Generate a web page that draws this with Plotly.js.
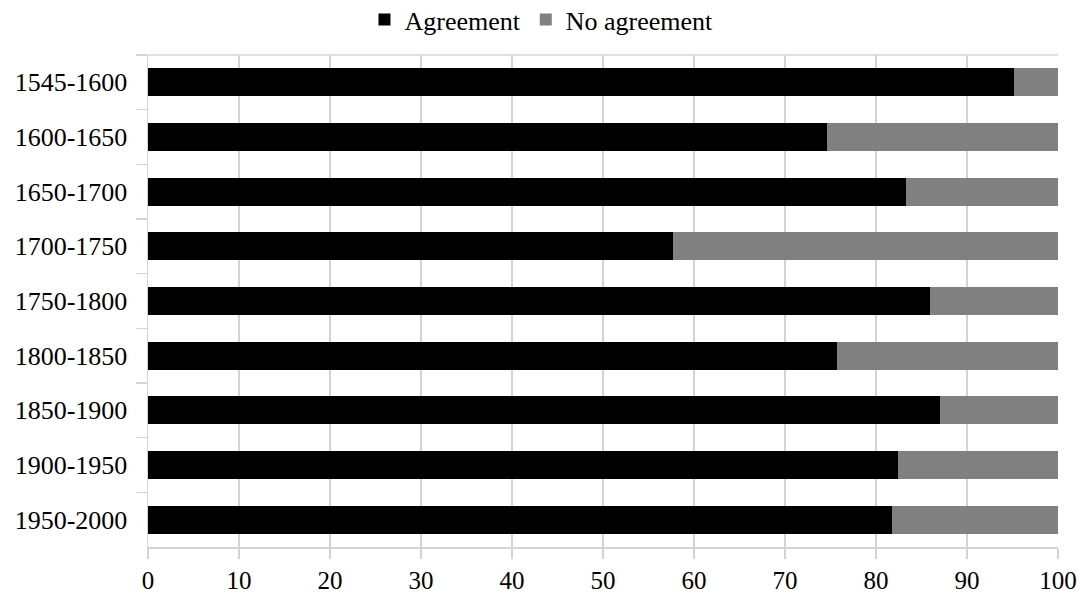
<!DOCTYPE html>
<html>
<head>
<meta charset="utf-8">
<script src="https://cdn.plot.ly/plotly-3.0.1.min.js"></script>
<style>
  html, body { margin: 0; padding: 0; background: #fff; }
  #chart { width: 1083px; height: 596px; }
</style>
</head>
<body>
<div id="chart"></div>
<script>
// Periods, top to bottom
const periods = ["1545-1600", "1600-1650", "1650-1700", "1700-1750", "1750-1800",
                 "1800-1850", "1850-1900", "1900-1950", "1950-2000"];
// Share of cases (%) with agreement
const agreement = [95.2, 74.6, 83.3, 57.7, 85.9, 75.7, 87.0, 82.4, 81.8];
// Remainder without agreement
const noAgreement = [4.8, 25.4, 16.7, 42.3, 14.1, 24.3, 13.0, 17.6, 18.2];
const xTicks = [0, 10, 20, 30, 40, 50, 60, 70, 80, 90, 100];

const serif = "Liberation Serif, Times New Roman, serif";
const font = { family: serif, size: 26, color: "#000" };
const gridColor = "#d4d4d4";

const traces = [
  { type: "bar", orientation: "h", name: "Agreement", y: periods, x: agreement,
    marker: { color: "#000000", line: { width: 0 } }, hoverinfo: "x+y" },
  { type: "bar", orientation: "h", name: "No agreement", y: periods, x: noAgreement,
    marker: { color: "#808080", line: { width: 0 } }, hoverinfo: "x+y" }
];

const layout = {
  width: 1083, height: 596,
  paper_bgcolor: "#fff", plot_bgcolor: "#fff",
  font: font,
  barmode: "stack",
  bargap: 0.49,
  margin: { l: 148, r: 25, t: 54.5, b: 48.5, pad: 0, autoexpand: false },
  showlegend: true,
  legend: {
    orientation: "h", traceorder: "normal",
    x: 0.4324, xanchor: "center", xref: "paper",
    y: 1.072, yref: "paper", yanchor: "middle",
    font: { family: serif, size: 26, color: "#000" },
    tracegroupgap: 0, itemclick: false
  },
  xaxis: {
    range: [0, 100], tickvals: xTicks, ticktext: xTicks.map(String),
    showgrid: true, gridcolor: gridColor, gridwidth: 1.5,
    zeroline: false, showline: true, linecolor: gridColor, linewidth: 1.5,
    ticks: "outside", ticklen: 10, tickcolor: gridColor, tickwidth: 1.5,
    tickfont: { family: serif, size: 25, color: "#000" },
    fixedrange: true
  },
  yaxis: {
    type: "category", categoryorder: "array", categoryarray: periods,
    autorange: "reversed",
    showgrid: false, zeroline: false,
    showline: true, linecolor: gridColor, linewidth: 1.5,
    ticks: "outside", tickson: "boundaries", ticklen: 11,
    tickcolor: gridColor, tickwidth: 1.5,
    tickfont: font, ticklabelstandoff: 14, fixedrange: true
  },
  shapes: [
    { type: "line", xref: "paper", yref: "paper", x0: 0, x1: 1, y0: 1, y1: 1,
      line: { color: gridColor, width: 1.5 }, layer: "below" }
  ]
};

Plotly.newPlot("chart", traces, layout, { displayModeBar: false, staticPlot: true });
</script>
</body>
</html>
